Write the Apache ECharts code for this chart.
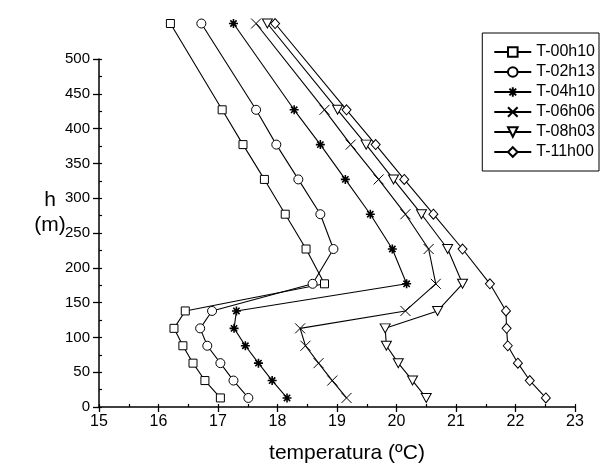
<!DOCTYPE html>
<html>
<head>
<meta charset="utf-8">
<script src="https://cdn.jsdelivr.net/npm/echarts@6/dist/echarts.min.js"></script>
<style>
  html, body { margin: 0; padding: 0; background: #fff; }
  #chart { width: 601px; height: 469px; }
</style>
</head>
<body>
<div id="chart"></div>
<script>
// heights (m), shared by all the profiles
const heights = [551, 427, 377, 327, 277, 227, 177, 138, 113, 88, 63, 38, 13]

// temperature (degC) at each height
const t0010 = [16.20, 17.07, 17.42, 17.78, 18.13, 18.48, 18.79, 16.45, 16.26, 16.41, 16.58, 16.78, 17.04]
const t0213 = [16.72, 17.64, 17.98, 18.35, 18.72, 18.94, 18.59, 16.90, 16.70, 16.82, 17.04, 17.26, 17.51]
const t0410 = [17.26, 18.28, 18.72, 19.14, 19.56, 19.93, 20.17, 17.31, 17.27, 17.46, 17.68, 17.91, 18.16]
const t0606 = [17.64, 18.79, 19.23, 19.70, 20.15, 20.54, 20.66, 20.15, 18.38, 18.47, 18.69, 18.92, 19.16]
const t0803 = [17.83, 19.01, 19.49, 19.95, 20.42, 20.86, 21.11, 20.69, 19.81, 19.83, 20.03, 20.27, 20.50]
const t1100 = [17.96, 19.16, 19.65, 20.13, 20.62, 21.11, 21.57, 21.84, 21.85, 21.87, 22.04, 22.24, 22.51]

const seriesNames = ['T-00h10', 'T-02h13', 'T-04h10', 'T-06h06', 'T-08h03', 'T-11h00']
const seriesTemps = [t0010, t0213, t0410, t0606, t0803, t1100]

const FONT = '"Liberation Sans", Arial, Helvetica, sans-serif'

const symbols = [
  { symbol: 'rect', size: 8 },
  { symbol: 'circle', size: 9 },
  { symbol: 'path://M0,5L10,5M5,0L5,10M1.5,1.5L8.5,8.5M8.5,1.5L1.5,8.5', size: 9, width: 1.6 },
  { symbol: 'path://M0,0L10,10M10,0L0,10', size: 10 },
  { symbol: 'path://M0,0L10,0L5,9Z', size: [10, 9] },
  { symbol: 'diamond', size: [9, 10] }
]

const chart = echarts.init(document.getElementById('chart'))

const series = seriesNames.map((name, i) => ({
  name,
  type: 'line',
  clip: false,
  data: seriesTemps[i].map((t, j) => [t, heights[j]]),
  symbol: symbols[i].symbol,
  symbolSize: symbols[i].size,
  showAllSymbol: true,
  lineStyle: { color: '#000', width: 1.1 },
  itemStyle: { color: '#fff', borderColor: '#000', borderWidth: symbols[i].width || 1 },
  emphasis: { disabled: true }
}))

chart.setOption({
  animation: false,
  textStyle: { fontFamily: FONT, color: '#000' },
  grid: { left: 99, right: 26, top: 59, bottom: 59 },
  title: {
    text: 'h\n(m)',
    left: 45,
    top: 183,
    textAlign: 'center',
    textStyle: { fontFamily: FONT, fontSize: 21, fontWeight: 'normal', color: '#000', lineHeight: 25 }
  },
  legend: {
    orient: 'vertical',
    right: 2,
    top: 33,
    itemWidth: 37,
    itemHeight: 12,
    itemGap: 4,
    padding: [11, 4, 11, 11],
    borderColor: '#000',
    borderWidth: 1,
    textStyle: { fontFamily: FONT, fontSize: 16, lineHeight: 16, color: '#000' },
    data: seriesNames
  },
  xAxis: [
    {
      type: 'value',
      min: 15,
      max: 23,
      interval: 1,
      name: 'temperatura (ºC)',
      nameLocation: 'middle',
      nameGap: 36,
      nameTextStyle: { fontFamily: FONT, fontSize: 21, color: '#000', padding: [0, 0, 0, 20] },
      axisLine: { lineStyle: { color: '#000', width: 1.5 } },
      axisTick: { length: 5, lineStyle: { color: '#000', width: 1.3 } },
      axisLabel: { fontFamily: FONT, fontSize: 16, color: '#000', margin: 7 },
      splitLine: { show: false }
    },
    {
      type: 'value',
      min: 15,
      max: 23,
      interval: 0.5,
      position: 'bottom',
      axisLine: { show: false },
      axisTick: { inside: true, length: 3, lineStyle: { color: '#000', width: 1.2 } },
      axisLabel: { show: false },
      splitLine: { show: false }
    }
  ],
  yAxis: [
    {
      type: 'value',
      min: 0,
      max: 500,
      interval: 50,
      axisLine: { show: true, lineStyle: { color: '#000', width: 1.5 } },
      axisTick: { show: true, length: 6, lineStyle: { color: '#000', width: 1.3 } },
      axisLabel: { fontFamily: FONT, fontSize: 15, color: '#000', margin: 9 },
      splitLine: { show: false }
    },
    {
      type: 'value',
      min: 0,
      max: 500,
      interval: 25,
      position: 'left',
      axisLine: { show: false },
      axisTick: { show: true, inside: true, length: 3, lineStyle: { color: '#000', width: 1.2 } },
      axisLabel: { show: false },
      splitLine: { show: false }
    }
  ],
  series
})
</script>
</body>
</html>
